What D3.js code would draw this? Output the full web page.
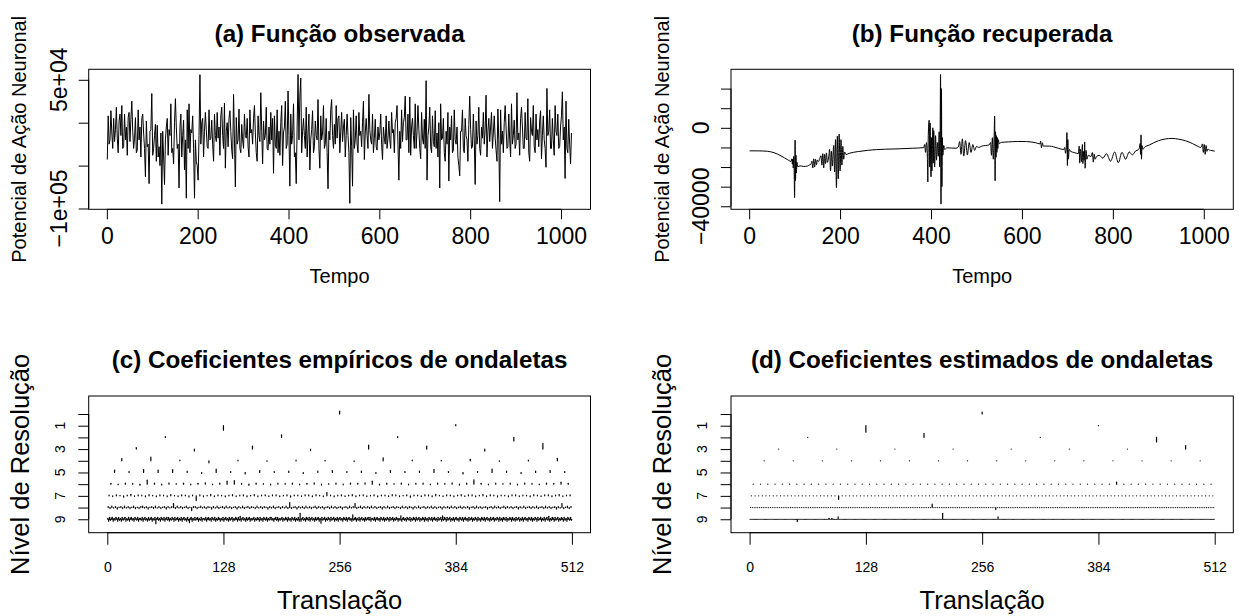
<!DOCTYPE html>
<html>
<head>
  <meta charset="utf-8">
  <script src="https://d3js.org/d3.v7.min.js"></script>
  <title>Ondaletas</title>
  <style>
    body { margin: 0; background: #fff; }
    svg { display: block; font-family: "Liberation Sans", Arial, sans-serif; }
    .box { fill: none; stroke: #000; stroke-width: 1; }
    .trace { fill: none; stroke: #000; stroke-width: 1; stroke-linejoin: round; }
    .coef { stroke: #000; stroke-width: 1.2; stroke-linecap: round; }
    .main { font-weight: bold; }
  </style>
</head>
<body>
<script>

// (a) observed signal, in thousands, one reading every 2 time steps from t = 1
var obsK = [
  -43, 8, -25, -20, 14, -12, -30, 5, -22, -8, 18, -18, -35, 2, 10, -15, 20, -30, -28, 10, -20, -5, -38, 6, 12, -22, 4, 25, -10, -30,
  -18, 6, -35, -32, 15, -20, -5, -40, 5, 10, -12, -30, -63, 2, -28, -25, -71, -10, -8, 34, -38, -30, -15, -2, -45, -3, -40, -28, -50, -12,
  -94.9, -10, -40, -72, -20, -5, 5, -38, -8, -15, 22, -35, -30, -48, 0, 28, -5, -30, -25, -76, -5, 10, -40, -15, 3, -55, -20, -88, 15, -30,
  22, -35, -8, -12, 8, -30, -88, -20, -45, -50, -67, -15, 56, -25, 0, 5, -40, -10, 12, -8, -28, -30, 15, -20, -18, 3, -25, -45, 10, -15,
  -22, 12, -18, -5, -38, 8, 18, -15, -30, 23, -53, -10, 0, -28, 5, 14, -10, -32, -42, 33, -20, -75, 6, -25, -20, 16, -30, -35, -2, -20,
  -30, 10, -15, -18, 5, -28, -40, 15, -12, -8, -25, 5, 20, -12, -35, -45, 8, -15, -22, 35, -10, -48, 2, -20, -15, 18, -30, -32, -5, -25,
  12, -20, 5, -59, 8, -25, -30, 15, -35, -10, -38, 0, 20, -50, -12, -5, 25, -30, -25, 37, -15, -74, 10, -25, -15, 22, -40, -35, -71, -5,
  56.2, -20, 30, 52, -35, -10, 5, -15, -30, 18, -40, -12, 10, -55, -20, -8, 14, -35, -28, 2, -15, -20, 27, -30, -53, 8, -20, -12, 20, -30,
  -25, 5, -35, -77, -10, -20, 15, 27, -15, -30, -2, -25, 20, -18, 5, 8, -35, -10, 12, -22, -5, 4, -40, -15, 10, -15, -35, -94, 6, -28,
  -74, 15, -30, -20, 8, -25, -35, 12, -15, -10, -28, 0, 25, -43, -12, 5, -15, -30, 33, -8, -20, -25, 10, -35, -18, 4, -28, -32, -5, -20,
  -12, 10, -25, -43, -5, -18, -25, 8, -30, -18, 2, -20, -30, 12, -12, -8, -35, 0, 5, 20, -25, -67, -10, -30, 15, -22, 0, 6, 31, -20,
  -20, 10, -35, 30, -38, -5, 5, -15, -30, 22, -30, -10, 20, -8, -30, -42, 12, -18, -25, 4, -30, 49, -67, -15, -5, 18, -28, -35, 8, -22,
  -28, 14, -30, -12, -40, 0, -76, 22, -20, -18, 5, -35, -45, -10, -25, 12, -68, -5, -20, 8, -35, -32, 15, -20, -25, -5, -40, -50, -62, -10,
  -10, 15, -30, -35, 5, -15, -20, -45, -2, 31, -8, -30, -28, 10, -20, -72, 2, -25, -15, 18, -30, -38, -5, -18, 12, -25, -8, 32, -40, -10,
  5, -22, -5, 12, -30, -12, 8, -18, -32, -45, 16, -20, -92, 15, -25, -10, -35, 0, 20, -5, -30, -28, 10, -20, -40, 22, -25, -15, 3, -30,
  -25, 35, -20, -12, -38, 5, 18, -5, -30, -30, 12, -18, -20, 28, -35, -45, 6, -10, -15, 20, -28, -35, 10, -20, -8, -28, 2, 14, -42, -15,
  8, -20, -30, -52, 40, -15, -10, 15, -30, -30, 5, -20, -38, 20, -10, -15, 10, -30, -28, -5, 8, 36, -20, -5, -65, 25, -30, -35, 4, -25,
  -48, -12
];

// (b) recovered signal: time and value pairs
var recTime = [
  1, 20, 40, 55, 70, 85, 92, 94, 95, 96, 97, 98, 99, 100, 101, 102, 103, 104, 105, 107,
  112, 120, 128, 133, 136, 138, 140, 142, 144, 146, 148, 150, 153, 155, 158, 160, 162, 164, 166, 168,
  170, 172, 175, 177, 179, 181, 183, 186, 188, 190, 192, 194, 196, 198, 200, 202, 204, 206, 208, 210,
  213, 220, 240, 260, 280, 300, 330, 360, 384, 386, 388, 390, 392, 393, 394, 396, 397, 398, 400, 401,
  402, 404, 405, 406, 408, 410, 412, 414, 416, 418, 419, 420, 421, 422, 423, 424, 425, 426, 428, 430,
  435, 445, 455, 460, 463, 466, 469, 472, 476, 480, 484, 488, 492, 496, 500, 505, 512, 520, 528, 531,
  533, 535, 537, 539, 540, 541, 542, 543, 544, 545, 546, 547, 548, 550, 555, 570, 590, 610, 630, 640,
  641, 643, 645, 647, 660, 680, 692, 694, 696, 698, 699, 700, 701, 702, 704, 707, 715, 724, 726, 727,
  729, 731, 733, 734, 736, 737, 738, 739, 741, 743, 746, 752, 755, 757, 759, 761, 764, 770, 778, 786,
  795, 804, 812, 820, 828, 836, 843, 850, 856, 858, 860, 861, 862, 863, 864, 866, 870, 880,
  890, 900, 915, 930, 945, 960, 975, 985, 993, 995, 997, 999, 1001, 1003, 1005, 1007, 1009, 1012, 1018, 1024
];
var recVal = [
  -11740, -11750, -11950, -12700, -14300, -16300, -17100, -15800, -18500, -16000, -20500, -14500, -22000, -35600, -6300, -27000, -14000, -23000, -17500, -19800,
  -19400, -19700, -19500, -18900, -18500, -17000, -20500, -15800, -20000, -16000, -18800, -16400, -17200, -15800, -14200, -19000, -13200, -20500, -13500, -18200,
  -12800, -17600, -14800, -11000, -22000, -12000, -19500, -9000, -22500, -6000, -30500, -4200, -26000, -3200, -22000, -6000, -19000, -9500, -16000, -12300,
  -13600, -13000, -12100, -11500, -11100, -10900, -10700, -10400, -10100, -8500, -12500, -7500, -15000, -27600, -4000, 3900, -20000, 2500, -25000, -5000,
  -22000, 0, -18000, -1500, -20000, -4000, -16500, -7500, -14500, -2000, -20000, -6000, 27200, -38900, 20000, -30000, -5000, -14000, -9000, -11000,
  -10200, -10300, -10400, -9800, -7000, -13500, -5600, -14400, -6500, -13800, -7500, -12500, -8500, -11500, -9500, -10000, -9300, -9000, -8700, -7500,
  -14000, -5000, -16000, -3000, 6000, -27000, -2000, -15000, -4000, -12500, -5000, -10500, -6000, -8000, -7400, -7200, -6950, -7000, -7600, -8200,
  -6800, -10200, -7600, -9300, -9300, -10400, -11100, -10000, -13000, -8000, -2400, -19200, -6000, -16000, -11000, -12000, -12600, -13200, -9300, -18000,
  -11000, -17200, -8500, -18200, -12000, -16500, -7200, -20600, -11500, -16000, -14000, -14600, -12600, -17500, -13500, -16000, -14700, -14000, -15500, -13200,
  -17000, -12300, -17800, -12500, -16000, -12300, -13800, -11800, -11200, -10500, -8000, -13500, -3600, -16000, -9000, -11000, -9800, -8800,
  -7600, -6600, -5700, -5400, -5800, -6600, -8000, -9200, -10000, -9400, -8200, -12500, -8500, -13500, -9000, -12000, -10800, -11300, -11600, -11900
];

// (c) empirical wavelet coefficients by resolution level (2^j values at level j)
var empL0 = [3];
var empL1 = [-4.5, 1];
var empL2 = [0.8, 2.5, 0.8, -3.5];
var empL3 = [1.5, -2, 3, -1.5, 4, 3, -2, 5.5];
var empL4 = [2.3, 3.7, 0.6, -2, 0.6, -0.5, 0.7, 0.5, -0.6, 3, 0.6, 0.5, 1.5, -0.5, 0.6, 2.5];
var empL5 = [2.5, 1, 3, 2.5, 3, 1.5, -1, 3.5, 1, -1.5, 2, 1, 1.5, -1, 1.5, 2,
             1, 1.5, -1, 2, 1, 1.5, 3, 1, -1.5, 1, 3.5, 1.5, -1, 1.5, 2, 1];
var empL6 = [0.8, -0.6, 1, 0.7, -1, 4, 1, -0.8, 1.2, 0.6, 1, -0.7, 0.9, 1.3, -0.6, 1,
             3, 3.5, 0.7, -1, 1, 0.6, -0.8, 1.1, 0.7, 1, -0.6, 0.8, 1.2, -0.9, 0.6, 1,
             -0.7, 1, 0.8, 1.2, 3, -0.8, 1, 0.6, 1, -0.7, 0.9, 1.1, -0.6, 1, 0.7, 1.2,
             -0.9, 1, 4.3, 0.8, -0.7, 1, 0.6, 1.1, -0.8, 1, 0.7, -0.6, 1, 0.9, 2, 0.8];
var empL7 = [0.8, -0.7, 1, 0.6, -1.2, 0.8, 1.5, -0.6, 0.9, 0.7, -1, 1.2, 0.6, -0.8, 1, 0.7,
             -0.9, 1.3, 0.6, -0.7, 1, 0.8, -1.1, 0.7, -4.7, 1, -0.8, 0.6, 1.4, -0.7, 0.9, 0.6,
             -1, 0.8, 1.2, -0.6, 0.7, 1, -0.9, 0.6, 1.3, -0.8, 0.7, 1, -0.6, 0.9, 1.1, -0.7,
             0.6, 1, -1.2, 0.8, 0.7, -0.6, 1, 0.9, -0.8, 1.2, 0.6, -0.7, 3.3, 0.8, -1, 0.7,
             1, -0.6, 0.8, 1.3, -0.9, 0.7, 1, -0.7, 0.6, 1.1, -1, 0.8, 0.7, -0.6, 1.2, 0.9,
             -0.7, 0.6, 1, -1.3, 0.8, 0.7, -0.6, 1, 0.9, -0.8, 1.4, 0.6, -0.7, 1, 0.8, -1,
             0.7, 1.2, -0.6, 0.9, 1, -0.8, 0.6, 1.3, -0.7, 1, 0.8, -1.1, 0.7, 0.6, -0.9, 1,
             1.1, -0.7, 0.8, 0.6, -1, 1.2, 0.7, -0.6, 0.9, 1, -0.8, 0.7, 1.3, -0.6, 0.8, 1];
var empL8 = [1, -1, 1.5, -0.5, 1, -1.5, 0.5, 1, -1, 1.5, -0.5, 1, -1, 0.5, 1.5, -1,
             0.5, -1, 1, 1.5, -0.5, 1, -1.5, 0.5, 1, -1, 1.5, -0.5, 1, -1, 0.5, 1,
             -1.5, 1, -0.5, 1, 4, -1, 1.5, -0.5, 1, -1, 0.5, 1.5, -1, 0.5, -3, 1,
             1, -1, 0.5, 1.5, -0.5, 1, -1, 1, 0.5, -1.5, 1, -0.5, 1.5, -1, 0.5, 1,
             -1, 1.5, -0.5, 1, -1, 0.5, 1, -1.5, 1, -0.5, 1.5, -1, 0.5, 1, -1, 1,
             0.5, -1, 1.5, -0.5, 1, -1, 1, 0.5, -1.5, 1, -0.5, 1.5, -1, 0.5, 1, -1,
             1, -0.5, 1.5, -1, 5, -1, 0.5, 1, -1.5, 1, -0.5, 1, -1, 1.5, -0.5, 1,
             -1, 0.5, 1.5, -1, 1, -0.5, 1, -1.5, 0.5, 1, -1, 1.5, -0.5, 1, -1, 0.5,
             1, -1.5, 0.5, 1, -1, 1.5, -0.5, 1, 4, -1, 0.5, 1.5, -1, 1, -0.5, 1,
             -1, 1.5, -0.5, 1, -1, 0.5, 1, -1.5, 1, -0.5, 1.5, -1, 0.5, 1, -1, 1,
             0.5, -1, 1.5, -0.5, 1, -1, 1, 0.5, -1.5, 1, -0.5, 1.5, -1, 0.5, 1, -1,
             1, -0.5, 1.5, -1, 1, -1, 0.5, 1, -1.5, 1, -0.5, 1, -1, 1.5, -0.5, 1,
             -1, 0.5, 1.5, -1, 1, -0.5, 1, -1.5, 0.5, 1, -1, 1.5, -0.5, 1, -1, 0.5,
             1, -1.5, 0.5, 1, -1, 1.5, -0.5, 1, -1, 0.5, 1.5, -1, 1, -0.5, 1, -1,
             0.5, 1, -1.5, 1, -0.5, 1.5, -1, 0.5, 1, -1, 1, -0.5, 1.5, -1, 0.5, 1,
             -1, 1.5, -0.5, 1, -1, 0.5, 1, -1.5, 1, -0.5, 4, -1, 0.5, 1.5, -1, 1];
var empL9 = [1, -2, 2, -1, 1, 2, -2, 1, -1, 2, 1, -2, 2, -1, 1, -2,
             2, -1, 1, 2, -2, 1, -1, 2, -2, 1, 2, -1, 1, -2, 2, 1,
             -1, 2, -2, 1, 1, -1, 2, -2, 1, 2, -1, 1, -2, 2, -1, 1,
             2, -2, 1, -1, 2, -4.5, 1, 2, -1, 1, -2, 2, 1, -1, 2, -2,
             1, 2, -1, 2, -2, 1, -1, 2, 1, -2, 2, -1, 1, 2, -2, 1,
             -1, 2, -2, 1, 2, -1, 1, -2, 2, -1, -3.5, 1, 2, -2, 1, -1,
             2, -1, 1, 2, -2, 1, -1, 2, -2, 1, 1, -1, 2, -2, 1, 2,
             -1, 1, -2, 2, 1, -1, 2, -2, 1, -1, 2, 1, -2, 1, -1, 2,
             -2, 1, 2, -1, 1, -2, 2, -1, 1, 2, -2, 1, -1, 2, 1, -2,
             2, -1, 3, -2, 1, 2, -1, 1, -2, 2, -1, 1, 2, -2, 1, -1,
             1, 2, -2, 1, -1, 2, 1, -2, 2, -1, 1, -2, 2, 1, -1, 2,
             -2, 1, -1, 2, 2, -1, 1, -2, 1, 2, -1, 2, -2, 1, -1, 1,
             2, -2, 1, -1, 2, 1, -2, 2, -1, 1, -2, 2, 1, -1, 2, -2,
             1, -1, 2, -2, 6, -2, 1, 2, -1, 1, -2, 2, 1, -1, 2, -2,
             1, 2, -1, 1, -2, 2, -1, 1, 2, -2, 1, -4, 2, -1, 1, 2,
             -2, 1, -1, 2, 1, -2, 2, -1, 1, 2, -2, 1, -1, 2, -2, 1,
             2, -1, 1, -2, 2, 1, -1, 2, -2, 1, 2, -1, 1, -2, 4.5, -1,
             1, 2, -2, 1, -1, 2, -2, 1, 2, -1, 1, -2, 2, -1, 1, 2,
             -1, 2, -2, 1, 1, -1, 2, -2, 1, 2, -1, 1, -2, 2, 1, -1,
             2, -2, 1, -1, 2, 1, -2, 2, -1, 1, 2, -2, 1, -1, 2, 1,
             -2, 1, -1, 3.5, -2, 1, 2, -1, 1, -2, 2, 1, -1, 2, -2, 1,
             -1, 2, 1, -2, 2, -1, 1, 2, -2, 1, -1, 2, 1, -2, 2, -1,
             1, -2, 2, 1, -1, 2, -2, 1, 2, -1, 1, -2, 2, -1, 1, 2,
             -2, 3.5, -1, 2, 1, -2, 2, -1, 1, 2, -2, 1, -1, 2, -2, 1,
             2, -1, 1, -2, 2, 1, -1, 2, -2, 1, 2, -1, 1, -2, 2, -1,
             1, 2, -2, 1, -1, 2, 1, -2, 2, -1, 1, -2, 2, 1, -1, 2,
             -2, 1, 2, -1, 1, -2, 2, -1, 1, 2, -2, 1, -1, 2, 1, -2,
             2, -1, 1, -2, 2, 1, -1, 2, -2, 1, -1, 2, 1, -2, 2, -1,
             1, -2, 2, -1, 1, 2, -2, 1, -1, 2, -2, 1, 2, -1, 1, -2,
             2, 1, -1, 2, -2, 1, -1, 2, 1, -2, 2, -1, 1, 2, -2, 1,
             -1, 2, -2, 1, 2, -1, 3, -2, 1, -1, 2, 1, -2, 2, -1, 1,
             2, -2, 1, -1, 2, 1, -2, 2, -1, 1, -2, 2, 1, -1, 2, -1];

// (d) thresholded coefficients: every coefficient is zero except these [level, index, value]
var estNonzero = [[0, 0, 2], [1, 0, -6.5], [2, 1, 4], [2, 3, -4.5], [3, 7, 3.5],
                  [6, 50, 2], [7, 24, -3.5], [8, 100, 3.5], [8, 135, -2],
                  [9, 52, -2.3], [9, 87, 1], [9, 90, 1], [9, 97, 2.3], [9, 212, 6], [9, 273, 2.5]];
var estHiddenLevels = [5];

// ticks and labels
var timeTicks = [0, 200, 400, 600, 800, 1000];
var obsTicks = [50, 0, -50, -100];
var obsTickLabels = ["5e+04", "", "", "\u22121e+05"];
var recTicks = [20000, 10000, 0, -10000, -20000, -30000, -40000];
var recTickLabels = ["", "", "0", "", "", "", "\u221240000"];
var transTicks = [0, 128, 256, 384, 512];
var levelTicks = [0, 1, 2, 3, 4, 5, 6, 7, 8, 9];
var levelTickLabels = ["", "1", "", "3", "", "5", "", "7", "", "9"];

var svg = d3.select("body").append("svg").attr("width", 1239).attr("height", 616);

var boxA = {left: 88.7, right: 590.5, top: 69.3, bottom: 209.3};
var boxB = {left: 731, right: 1233.3, top: 69.3, bottom: 209.3};
var boxC = {left: 88.7, right: 590.5, top: 396, bottom: 532.7};
var boxD = {left: 731, right: 1233.3, top: 396, bottom: 532.7};

var topStyle = {tick: 10, pad: 8.7, font: 23, yoff: 22, main: 24.2, mainY: 42, lab: 20, xlabY: 283, ylabX: 62.5};
var botStyle = {tick: 12, pad: 17, font: 14, yoff: 23.7, ytick: 10.4, main: 24.2, mainY: 368, lab: 25.5, xlabY: 609, ylabX: 60};

// R pads the data range by 4% on each side
function rpad(ext) {
  var d = (ext[1] - ext[0]) * 0.04;
  return [ext[0] - d, ext[1] + d];
}

function drawBox(b) {
  svg.append("rect").attr("class", "box")
    .attr("x", b.left).attr("y", b.top)
    .attr("width", b.right - b.left).attr("height", b.bottom - b.top);
}

function xAxis(b, x, ticks, st) {
  var g = svg.append("g")
    .attr("transform", "translate(0," + b.bottom + ")")
    .call(d3.axisBottom(x).tickValues(ticks).tickSize(st.tick).tickSizeOuter(0)
      .tickPadding(st.pad).tickFormat(function(d) { return String(d); }));
  g.attr("font-family", null).attr("font-size", st.font);
  g.select(".domain").attr("d", "M" + x(ticks[0]) + ",0H" + x(ticks[ticks.length - 1]));
  g.selectAll("line, path").attr("stroke", "#000");
  g.selectAll("text").attr("fill", "#000");
}

function yAxis(b, y, ticks, labels, st, tickLen) {
  var g = svg.append("g")
    .attr("transform", "translate(" + b.left + ",0)")
    .call(d3.axisLeft(y).tickValues(ticks).tickSize(tickLen).tickSizeOuter(0).tickFormat(""));
  g.select(".domain").attr("d", "M0," + y(ticks[0]) + "V" + y(ticks[ticks.length - 1]));
  g.selectAll("line, path").attr("stroke", "#000");

  svg.append("g").selectAll("text")
    .data(ticks)
    .join("text")
      .attr("transform", function(d) { return "translate(" + (b.left - st.yoff) + "," + y(d) + ") rotate(-90)"; })
      .attr("text-anchor", "middle")
      .attr("font-size", st.font)
      .text(function(d, i) { return labels[i]; });
}

function labels(b, main, xlab, ylab, st) {
  var cx = (b.left + b.right) / 2;
  svg.append("text").attr("class", "main")
    .attr("x", cx).attr("y", st.mainY)
    .attr("text-anchor", "middle").attr("font-size", st.main)
    .text(main);
  svg.append("text")
    .attr("x", cx).attr("y", st.xlabY)
    .attr("text-anchor", "middle").attr("font-size", st.lab)
    .text(xlab);
  svg.append("text")
    .attr("transform", "translate(" + (b.left - st.ylabX) + "," + ((b.top + b.bottom) / 2) + ") rotate(-90)")
    .attr("text-anchor", "middle").attr("font-size", st.lab)
    .text(ylab);
}

// ---- (a) observed ----
var xA = d3.scaleLinear().domain(rpad([1, 1024])).range([boxA.left, boxA.right]);
var yA = d3.scaleLinear().domain(rpad(d3.extent(obsK))).range([boxA.bottom, boxA.top]);

svg.append("path").datum(obsK).attr("class", "trace")
  .attr("d", d3.line()
    .x(function(d, i) { return xA(1 + 2 * i); })
    .y(function(d) { return yA(d); }));

drawBox(boxA);
xAxis(boxA, xA, timeTicks, topStyle);
yAxis(boxA, yA, obsTicks, obsTickLabels, topStyle, topStyle.tick);
labels(boxA, "(a) Função observada", "Tempo", "Potencial de Ação Neuronal", topStyle);

// ---- (b) recovered ----
var xB = d3.scaleLinear().domain(rpad([1, 1024])).range([boxB.left, boxB.right]);
var yB = d3.scaleLinear().domain(rpad(d3.extent(recVal))).range([boxB.bottom, boxB.top]);

svg.append("path").datum(recTime).attr("class", "trace")
  .attr("d", d3.line()
    .curve(d3.curveMonotoneX)
    .x(function(d) { return xB(d); })
    .y(function(d, i) { return yB(recVal[i]); }));

drawBox(boxB);
xAxis(boxB, xB, timeTicks, topStyle);
yAxis(boxB, yB, recTicks, recTickLabels, topStyle, topStyle.tick);
labels(boxB, "(b) Função recuperada", "Tempo", "Potencial de Ação Neuronal", topStyle);

// ---- (c) and (d) wavelet coefficients ----
var empLevels = [empL0, empL1, empL2, empL3, empL4, empL5, empL6, empL7, empL8, empL9];

var estLevels = empLevels.map(function(vals, j) {
  if (estHiddenLevels.indexOf(j) >= 0) return null;
  return vals.map(function() { return 0; });
});
estNonzero.forEach(function(c) { estLevels[c[0]][c[1]] = c[2]; });

var coefPx = 1;  // pixels per coefficient unit

function coefPanel(b, levels, main) {
  var x = d3.scaleLinear().domain(rpad([0, 512])).range([b.left, b.right]);
  var y = d3.scaleLinear().domain([-1.54, 10.15]).range([b.top, b.bottom]);

  levels.forEach(function(vals, j) {
    if (!vals) return;
    var step = 512 / vals.length;
    svg.append("g").selectAll("line")
      .data(vals)
      .join("line")
        .attr("class", "coef")
        .attr("x1", function(d, k) { return x((k + 0.5) * step); })
        .attr("x2", function(d, k) { return x((k + 0.5) * step); })
        .attr("y1", y(j))
        .attr("y2", function(d) { return y(j) - coefPx * d + (d === 0 ? 0.01 : 0); });
  });

  drawBox(b);
  xAxis(b, x, transTicks, botStyle);
  yAxis(b, y, levelTicks, levelTickLabels, botStyle, botStyle.ytick);
  labels(b, main, "Translação", "Nível de Resolução", botStyle);
}

coefPanel(boxC, empLevels, "(c) Coeficientes empíricos de ondaletas");
coefPanel(boxD, estLevels, "(d) Coeficientes estimados de ondaletas");

</script>
</body>
</html>
